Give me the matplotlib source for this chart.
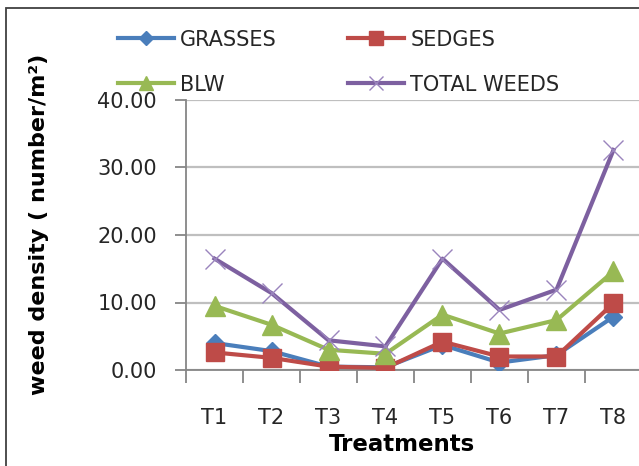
import matplotlib
matplotlib.use("Agg")
import matplotlib.pyplot as plt
from matplotlib.patches import Rectangle

treatments = ["T1", "T2", "T3", "T4", "T5", "T6", "T7", "T8"]
grasses = [4.0, 2.8, 0.5, 0.4, 3.7, 1.1, 2.2, 7.9]
sedges = [2.6, 1.8, 0.5, 0.3, 4.2, 2.0, 2.0, 9.9]
blw = [9.5, 6.7, 3.0, 2.4, 8.2, 5.4, 7.4, 14.6]
total = [16.5, 11.4, 4.4, 3.5, 16.5, 8.9, 11.9, 32.6]
yticks = [0, 10, 20, 30, 40]

plt.rcParams.update({
    'font.family': 'DejaVu Sans',
    'text.color': '#262626',
})

W, H = 639, 466
fig = plt.figure(figsize=(W / 100, H / 100), dpi=100)
fig.patch.set_facecolor('#ffffff')

# outer chart border (clipped on the right/bottom like the reference)
fig.add_artist(Rectangle((6 / W, -0.1), 1.2, (H - 8) / H + 0.1,
                         transform=fig.transFigure, fill=False,
                         edgecolor='#404040', linewidth=1.3))

ax = fig.add_axes([186 / W, (H - 370) / H, (642 - 186) / W, 270 / H])
ax.set_clip_on(False)

x = list(range(len(treatments)))

ax.plot(x, grasses, color='#4A7EBB', linewidth=3, marker='D', markersize=9,
        label='GRASSES', zorder=3)
ax.plot(x, sedges, color='#BE4B48', linewidth=3, marker='s', markersize=13,
        label='SEDGES', zorder=4)
ax.plot(x, blw, color='#98B954', linewidth=3, marker='^', markersize=14,
        label='BLW', zorder=5)
ax.plot(x, total, color='#7D60A0', linewidth=3, marker='x', markersize=14,
        markeredgewidth=1, markeredgecolor='#9A84BD', label='TOTAL WEEDS', zorder=6)

ax.set_xlim(-0.5, 7.5)
ax.set_ylim(0, 40)
ax.set_yticks(yticks)
ax.set_yticklabels([f"{v:.2f}" for v in yticks])
ax.set_xticks(x)
ax.set_xticklabels(treatments)
ax.set_xticks([i - 0.5 for i in range(len(treatments) + 1)], minor=True)

ax.tick_params(axis='x', which='major', length=0, pad=27, labelsize=15,
               labelcolor='#262626')
ax.tick_params(axis='x', which='minor', length=9, width=1.3, color='#868686',
               direction='out')
ax.tick_params(axis='y', length=8, width=1.3, color='#868686', pad=13,
               labelsize=15, labelcolor='#262626')

ax.grid(True, axis='y', color='#BFBFBF', linewidth=1.6)
ax.set_axisbelow(True)
for side in ['top', 'right']:
    ax.spines[side].set_visible(False)
for side in ['left', 'bottom']:
    ax.spines[side].set_color('#868686')
    ax.spines[side].set_linewidth(1.3)

ax.set_xlabel('Treatments', fontsize=16.5, fontweight='bold')
ax.xaxis.set_label_coords(0.474, -0.235)
ax.set_ylabel('weed density ( number/m²)', fontsize=16, fontweight='bold')
ax.yaxis.set_label_coords(-0.30, 0.54)

h, l = ax.get_legend_handles_labels()
order = [0, 2, 1, 3]
fig.legend([h[i] for i in order], [l[i] for i in order], ncol=2,
           loc='upper left', bbox_to_anchor=(99 / W, 1 - 11 / H),
           frameon=False, fontsize=15, handlelength=2.7, handletextpad=0.3,
           columnspacing=3.4, labelspacing=1.2, numpoints=1, markerscale=0.75)

fig.savefig('out.png', dpi=100, facecolor=fig.get_facecolor())
